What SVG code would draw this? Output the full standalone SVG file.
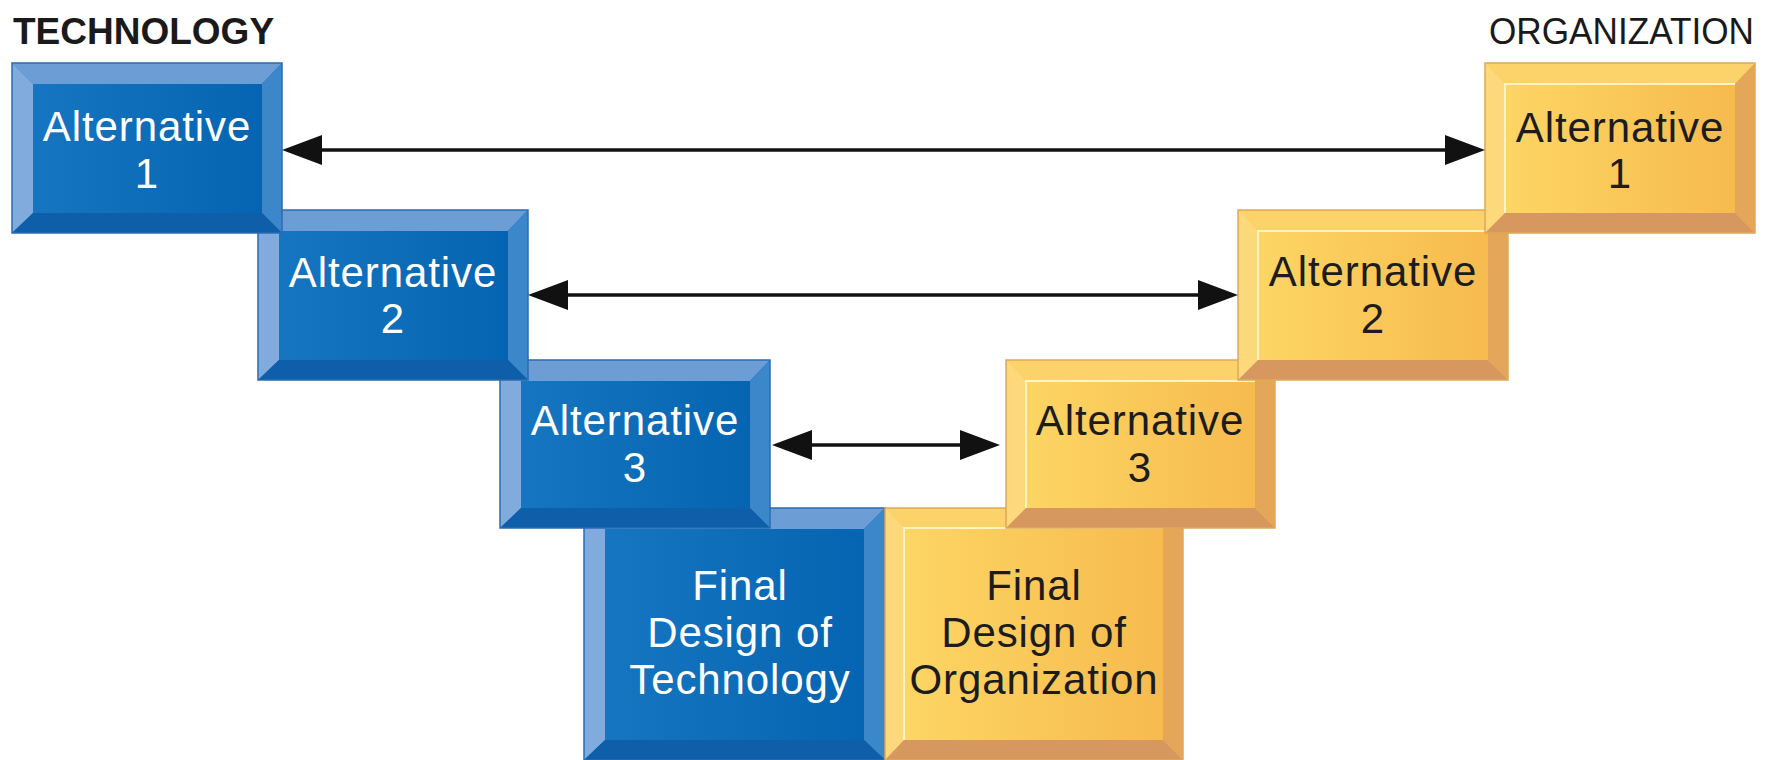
<svg xmlns="http://www.w3.org/2000/svg" width="1769" height="760" viewBox="0 0 1769 760">
<style>
text{font-family:"Liberation Sans",Arial,Helvetica,sans-serif}
.lbl{font-size:42px;text-anchor:middle;letter-spacing:0.9px}
.w{fill:#ffffff}
.k{fill:#1c1c1c}
.bT{fill:#6c9dd4}.bL{fill:#80abdc}.bR{fill:#3c86ca}.bB{fill:#0e5ea9}
.bF{fill:url(#gBlue)}
.bO{fill:none;stroke:#2a6cb4;stroke-width:1.5}
.yT{fill:#fcd36a}.yL{fill:#fdd97c}.yR{fill:#e4a658}.yB{fill:#d6985e}
.yF{fill:url(#gYel)}
.yO{fill:none;stroke:#e0a85a;stroke-width:1.5}
.yH{fill:none;stroke:#fff4c4;stroke-width:2}
.arr{stroke:#111;stroke-width:3.5;fill:none;marker-start:url(#ah);marker-end:url(#ah)}
</style>
<defs>
<linearGradient id="gBlue" x1="0" y1="0" x2="1" y2="0">
<stop offset="0" stop-color="#1877c2"/>
<stop offset="1" stop-color="#0463b0"/>
</linearGradient>
<linearGradient id="gYel" x1="0" y1="0" x2="1" y2="0">
<stop offset="0" stop-color="#fdd866"/>
<stop offset="1" stop-color="#f6b84c"/>
</linearGradient>
<marker id="ah" viewBox="0 0 40 30" refX="30" refY="15" markerWidth="40" markerHeight="30" markerUnits="userSpaceOnUse" orient="auto-start-reverse">
<path d="M0,0 L40,15 L0,30 Z" fill="#111"/>
</marker>
</defs>
<rect width="1769" height="760" fill="#ffffff"/>

<g id="hdr-tech"><text x="13" y="44" font-size="37" font-weight="bold" fill="#1a1a1a">TECHNOLOGY</text></g>
<g id="hdr-org"><text x="1754" y="44" font-size="37" text-anchor="end" textLength="265" lengthAdjust="spacingAndGlyphs" fill="#1a1a1a">ORGANIZATION</text></g>

<g id="tech-final">
<rect x="584" y="508" width="301" height="252" class="bF"/>
<polygon class="bT" points="584,508 885,508 864,529 605,529"/>
<polygon class="bL" points="584,508 605,529 605,740 584,760"/>
<polygon class="bR" points="885,508 885,760 864,740 864,529"/>
<polygon class="bB" points="584,760 605,740 864,740 885,760"/>
<rect x="584" y="508" width="301" height="252" class="bO"/>
<text class="lbl w" x="740" y="600">Final</text>
<text class="lbl w" x="740" y="647">Design of</text>
<text class="lbl w" x="740" y="694">Technology</text>
</g>

<g id="org-final">
<rect x="885" y="508" width="298" height="252" class="yF"/>
<polygon class="yT" points="885,508 1183,508 1163,528 904,528"/>
<polygon class="yL" points="885,508 904,528 904,740 885,760"/>
<polygon class="yR" points="1183,508 1183,760 1163,740 1163,528"/>
<polygon class="yB" points="885,760 904,740 1163,740 1183,760"/>
<polyline class="yH" points="904,740 904,528 1163,528"/>
<rect x="885" y="508" width="298" height="252" class="yO"/>
<text class="lbl k" x="1034" y="600">Final</text>
<text class="lbl k" x="1034" y="647">Design of</text>
<text class="lbl k" x="1034" y="694">Organization</text>
</g>

<g id="tech-alt3">
<rect x="500" y="360" width="270" height="168" class="bF"/>
<polygon class="bT" points="500,360 770,360 750,381 521,381"/>
<polygon class="bL" points="500,360 521,381 521,508 500,528"/>
<polygon class="bR" points="770,360 770,528 750,508 750,381"/>
<polygon class="bB" points="500,528 521,508 750,508 770,528"/>
<rect x="500" y="360" width="270" height="168" class="bO"/>
<text class="lbl w" x="635" y="435">Alternative</text>
<text class="lbl w" x="635" y="482">3</text>
</g>

<g id="org-alt3">
<rect x="1006" y="360" width="269" height="168" class="yF"/>
<polygon class="yT" points="1006,360 1275,360 1255,381 1026,381"/>
<polygon class="yL" points="1006,360 1026,381 1026,508 1006,528"/>
<polygon class="yR" points="1275,360 1275,528 1255,508 1255,381"/>
<polygon class="yB" points="1006,528 1026,508 1255,508 1275,528"/>
<polyline class="yH" points="1026,508 1026,381 1255,381"/>
<rect x="1006" y="360" width="269" height="168" class="yO"/>
<text class="lbl k" x="1140" y="435">Alternative</text>
<text class="lbl k" x="1140" y="482">3</text>
</g>

<g id="tech-alt2">
<rect x="258" y="210" width="270" height="170" class="bF"/>
<polygon class="bT" points="258,210 528,210 508,231 279,231"/>
<polygon class="bL" points="258,210 279,231 279,360 258,380"/>
<polygon class="bR" points="528,210 528,380 508,360 508,231"/>
<polygon class="bB" points="258,380 279,360 508,360 528,380"/>
<rect x="258" y="210" width="270" height="170" class="bO"/>
<text class="lbl w" x="393" y="287">Alternative</text>
<text class="lbl w" x="393" y="333">2</text>
</g>

<g id="org-alt2">
<rect x="1238" y="210" width="270" height="170" class="yF"/>
<polygon class="yT" points="1238,210 1508,210 1488,231 1258,231"/>
<polygon class="yL" points="1238,210 1258,231 1258,360 1238,380"/>
<polygon class="yR" points="1508,210 1508,380 1488,360 1488,231"/>
<polygon class="yB" points="1238,380 1258,360 1488,360 1508,380"/>
<polyline class="yH" points="1258,360 1258,231 1488,231"/>
<rect x="1238" y="210" width="270" height="170" class="yO"/>
<text class="lbl k" x="1373" y="286">Alternative</text>
<text class="lbl k" x="1373" y="333">2</text>
</g>

<g id="tech-alt1">
<rect x="12" y="63" width="270" height="170" class="bF"/>
<polygon class="bT" points="12,63 282,63 262,84 33,84"/>
<polygon class="bL" points="12,63 33,84 33,213 12,233"/>
<polygon class="bR" points="282,63 282,233 262,213 262,84"/>
<polygon class="bB" points="12,233 33,213 262,213 282,233"/>
<rect x="12" y="63" width="270" height="170" class="bO"/>
<text class="lbl w" x="147" y="141">Alternative</text>
<text class="lbl w" x="147" y="188">1</text>
</g>

<g id="org-alt1">
<rect x="1485" y="63" width="270" height="170" class="yF"/>
<polygon class="yT" points="1485,63 1755,63 1735,84 1505,84"/>
<polygon class="yL" points="1485,63 1505,84 1505,213 1485,233"/>
<polygon class="yR" points="1755,63 1755,233 1735,213 1735,84"/>
<polygon class="yB" points="1485,233 1505,213 1735,213 1755,233"/>
<polyline class="yH" points="1505,213 1505,84 1735,84"/>
<rect x="1485" y="63" width="270" height="170" class="yO"/>
<text class="lbl k" x="1620" y="142">Alternative</text>
<text class="lbl k" x="1620" y="188">1</text>
</g>

<g id="connectors">
<line class="arr" x1="292" y1="150" x2="1475" y2="150"/>
<line class="arr" x1="538" y1="295" x2="1228" y2="295"/>
<line class="arr" x1="782" y1="445" x2="990" y2="445"/>
</g>
</svg>
